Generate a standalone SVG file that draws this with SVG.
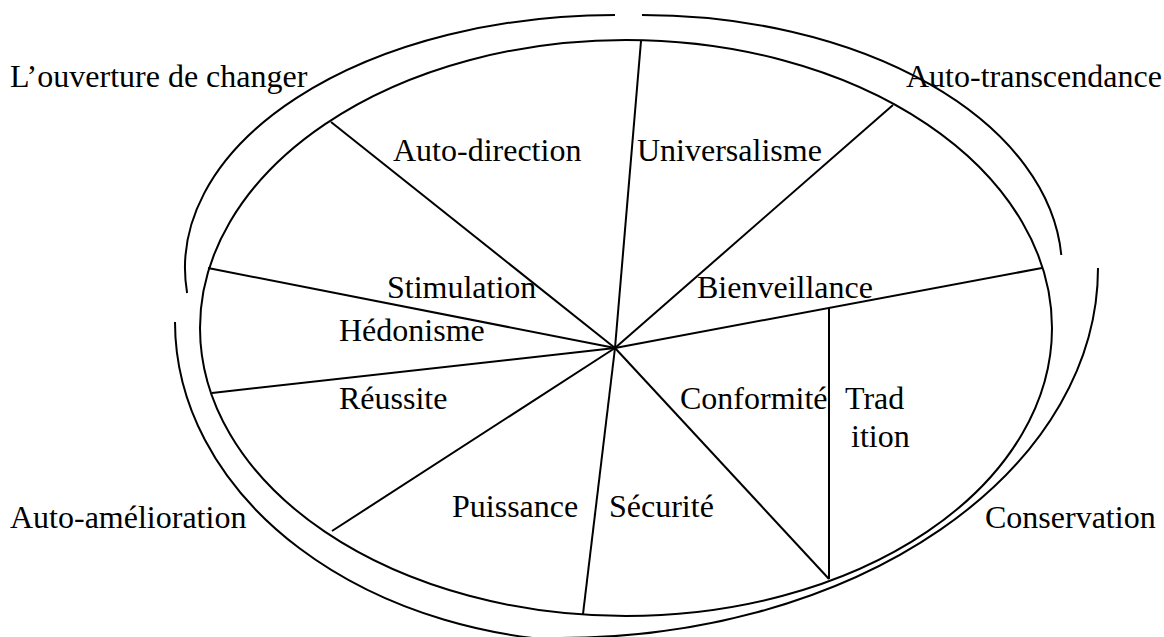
<svg xmlns="http://www.w3.org/2000/svg" width="1164" height="637" viewBox="0 0 1164 637">
  <style>
    .ln { fill: none; stroke: #000; stroke-width: 2; }
    .lbl { font-family: "Liberation Serif", "Times New Roman", serif; font-size: 32px; fill: #000; }
  </style>
  <rect width="1164" height="637" fill="#fff"/>

  <!-- outer arcs grouping the value sectors -->
  <g id="outer-arcs">
    <path id="arc-openness" class="ln" d="M615,15 A430,253 0 0 0 187.1,293"/>
    <path id="arc-transcendence" class="ln" d="M642,15 A420,255 0 0 1 1061.3,255"/>
    <path id="arc-conservation" class="ln" d="M1098,268 A538,370 0 0 1 560,638"/>
    <path id="arc-enhancement" class="ln" d="M175,322 A425,320 0 0 0 600,642"/>
  </g>

  <!-- value circle -->
  <g id="circle">
    <ellipse class="ln" cx="626" cy="328" rx="426" ry="288"/>
  </g>

  <!-- sector dividers -->
  <g id="connectors">
    <line class="ln" x1="615" y1="348" x2="641" y2="41"/>
    <line class="ln" x1="615" y1="348" x2="893" y2="105"/>
    <line class="ln" x1="615" y1="348" x2="1042" y2="268"/>
    <line class="ln" x1="615" y1="348" x2="829" y2="579"/>
    <line class="ln" x1="615" y1="348" x2="583" y2="614"/>
    <line class="ln" x1="615" y1="348" x2="332" y2="531"/>
    <line class="ln" x1="615" y1="348" x2="212" y2="393"/>
    <line class="ln" x1="615" y1="348" x2="208" y2="268"/>
    <line class="ln" x1="615" y1="348" x2="331" y2="122"/>
    <line class="ln" x1="829" y1="308" x2="829" y2="579"/>
  </g>

  <!-- higher-order dimensions -->
  <g id="dim-openness"><text class="lbl" x="10" y="87">L’ouverture de changer</text></g>
  <g id="dim-transcendence"><text class="lbl" x="906" y="87">Auto-transcendance</text></g>
  <g id="dim-enhancement"><text class="lbl" x="10" y="528">Auto-amélioration</text></g>
  <g id="dim-conservation"><text class="lbl" x="985" y="528">Conservation</text></g>

  <!-- values -->
  <g id="v-self-direction"><text class="lbl" x="393" y="161">Auto-direction</text></g>
  <g id="v-universalism"><text class="lbl" x="637" y="161">Universalisme</text></g>
  <g id="v-stimulation"><text class="lbl" x="387" y="298">Stimulation</text></g>
  <g id="v-benevolence"><text class="lbl" x="697" y="298">Bienveillance</text></g>
  <g id="v-hedonism"><text class="lbl" x="339" y="341">Hédonisme</text></g>
  <g id="v-achievement"><text class="lbl" x="339" y="409">Réussite</text></g>
  <g id="v-conformity"><text class="lbl" x="680" y="409">Conformité</text></g>
  <g id="v-tradition">
    <text class="lbl" x="845" y="409">Trad</text>
    <text class="lbl" x="851" y="447">ition</text>
  </g>
  <g id="v-power"><text class="lbl" x="452" y="517">Puissance</text></g>
  <g id="v-security"><text class="lbl" x="609" y="517">Sécurité</text></g>
</svg>
